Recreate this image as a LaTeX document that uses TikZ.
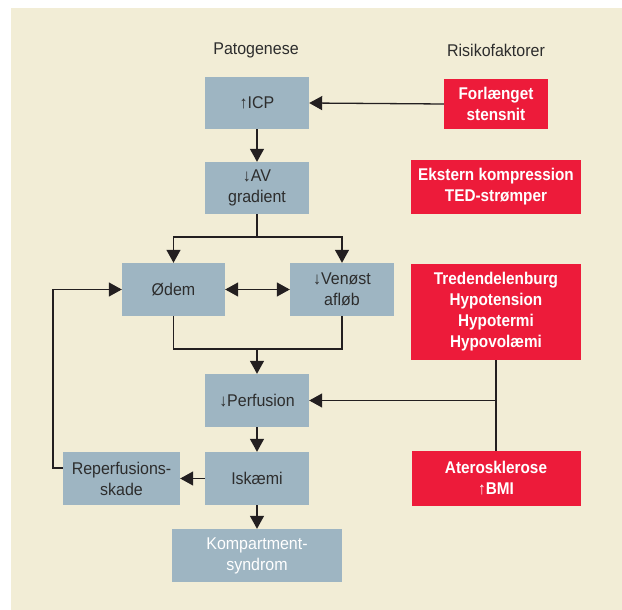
\documentclass[tikz,border=0pt]{standalone}
\usepackage{fontspec}
\setmainfont{Liberation Sans}[FakeStretch=0.94]
\newfontfamily\redfont{Liberation Sans}[FakeStretch=0.9]
\usetikzlibrary{arrows.meta,calc}
\definecolor{bg}{RGB}{242,237,214}
\definecolor{boxblue}{RGB}{158,181,194}
\definecolor{boxred}{RGB}{237,27,58}
\definecolor{txt}{RGB}{45,45,45}
\definecolor{ln}{RGB}{35,31,32}
\begin{document}
\begin{tikzpicture}[x=1pt,y=-1pt,
  bluebox/.style={fill=boxblue, draw=none, text=txt, align=center, inner sep=0pt,
    font=\fontsize{17}{21}\selectfont},
  redbox/.style={fill=boxred, draw=none, text=white, align=center, inner sep=0pt,
    font=\redfont\bfseries\fontsize{17}{21}\selectfont},
  title/.style={text=txt, font=\fontsize{17}{21}\selectfont},
  conn/.style={draw=ln, line width=1.3pt},
  arr/.style={conn, -{Triangle[length=13pt,width=14pt]}},
  darr/.style={conn, {Triangle[length=13pt,width=14pt]}-{Triangle[length=13pt,width=14pt]}}
]
\useasboundingbox (0,0) rectangle (622,610);
\fill[bg] (11,8) rectangle (622,610);

\node[title] (pat) at (256,50) {Patogenese};
\node[title] (ris) at (496,50) {Risikofaktorer};

\node[bluebox, minimum width=104pt, minimum height=52pt] (icp) at (257,103) {↑ICP};
\node[redbox, minimum width=104pt, minimum height=50pt] (forl) at (496,104) {Forlænget\\stensnit};
\node[bluebox, minimum width=104pt, minimum height=52pt] (av) at (257,188) {↓AV\\gradient};
\node[redbox, minimum width=170pt, minimum height=54pt] (ekst) at (496,187) {Ekstern kompression\\TED-strømper};
\node[bluebox, minimum width=103pt, minimum height=53pt] (odem) at (173.5,289.5) {Ødem};
\node[bluebox, minimum width=104pt, minimum height=53pt] (ven) at (342,289.5) {↓Venøst\\afløb};
\node[redbox, minimum width=170pt, minimum height=96pt] (tred) at (496,312) {Tredendelenburg\\Hypotension\\Hypotermi\\Hypovolæmi};
\node[bluebox, minimum width=104pt, minimum height=53pt] (perf) at (257,400.5) {↓Perfusion};
\node[redbox, minimum width=169pt, minimum height=55pt] (ater) at (496,478.5) {Aterosklerose\\↑BMI};
\node[bluebox, minimum width=104pt, minimum height=53pt] (isk) at (257,478.5) {Iskæmi};
\node[bluebox, minimum width=117pt, minimum height=53pt] (rep) at (121.5,478.5) {Reperfusions-\\skade};
\node[bluebox, text=white, minimum width=170pt, minimum height=53pt] (komp) at (257,555.5) {Kompartment-\\syndrom};

% connectors
\draw[arr] (forl.west) -- (icp.east);
\draw[arr] (icp.south) -- (av.north);

\coordinate (split) at (257,237);
\draw[conn] (av.south) -- (split);
\draw[arr] (split) -| (odem.north);
\draw[arr] (split) -| (ven.north);
\draw[darr] (odem.east) -- (ven.west);

\coordinate (merge) at (257,349);
\draw[conn] (odem.south) |- (merge);
\draw[conn] (ven.south) |- (merge);
\draw[arr] (merge) -- (perf.north);

\draw[conn] (tred.south) -- (ater.north);
\draw[arr] (tred.south |- perf.east) -- (perf.east);

\draw[arr] (perf.south) -- (isk.north);
\draw[arr] (isk.west) -- (rep.east);
\draw[arr] (isk.south) -- (komp.north);

\coordinate (fb1) at (53,468);
\coordinate (fb2) at (53,289.5);
\draw[arr] (rep.west |- fb1) -- (fb1) -- (fb2) -- (odem.west);
\end{tikzpicture}
\end{document}
